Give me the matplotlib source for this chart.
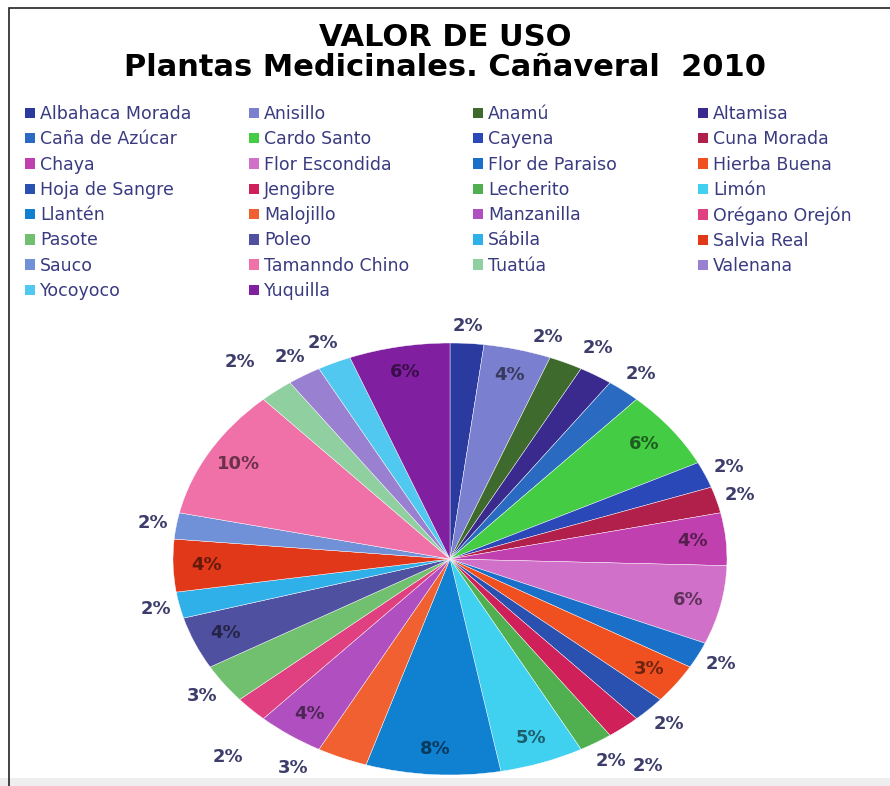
import numpy as np
import matplotlib.pyplot as plt
from matplotlib.colors import to_rgb
from matplotlib.patches import Patch, Rectangle

plantas = ['Albahaca Morada', 'Anisillo', 'Anamú', 'Altamisa',
           'Caña de Azúcar', 'Cardo Santo', 'Cayena', 'Cuna Morada',
           'Chaya', 'Flor Escondida', 'Flor de Paraiso', 'Hierba Buena',
           'Hoja de Sangre', 'Jengibre', 'Lecherito', 'Limón',
           'Llantén', 'Malojillo', 'Manzanilla', 'Orégano Orejón',
           'Pasote', 'Poleo', 'Sábila', 'Salvia Real',
           'Sauco', 'Tamanndo Chino', 'Tuatúa', 'Valenana',
           'Yocoyoco', 'Yuquilla']
valores = [2, 4, 2, 2, 2, 6, 2, 2, 4, 6, 2, 3, 2, 2, 2, 5,
           8, 3, 4, 2, 3, 4, 2, 4, 2, 10, 2, 2, 2, 6]
colores = ['#2b3a9e', '#7b7fcf', '#3e6a2e', '#3a2a8e', '#2a6ac0', '#44cc44',
           '#2a48b8', '#b0204a', '#c040b0', '#d070c8', '#1a70c8', '#f05020',
           '#2a50b0', '#d0205a', '#50b050', '#40d0f0', '#1080d0', '#f06030',
           '#b050c0', '#e04080', '#70c070', '#5050a0', '#30b0e8', '#e03818',
           '#7090d8', '#f070a8', '#90d0a0', '#9a80d0', '#50c8f0', '#8020a0']

# etiquetas que van dentro del sector
dentro = {'Anisillo', 'Cardo Santo', 'Chaya', 'Flor Escondida', 'Hierba Buena',
          'Limón', 'Llantén', 'Manzanilla', 'Poleo', 'Salvia Real',
          'Tamanndo Chino', 'Yuquilla'}
# pequeños desplazamientos (px) de etiquetas externas, como en Excel
ajuste = {'Anamú': (-29, -6), 'Altamisa': (-13, -9), 'Jengibre': (7, 22),
          'Malojillo': (-38, -9), 'Orégano Orejón': (-3, 33),
          'Tuatúa': (-19, -12)}

W, H = 890, 786
fig = plt.figure(figsize=(W / 100, H / 100), dpi=100)

fig.text(0.5, 1 - 46 / H, 'VALOR DE USO', ha='center', va='baseline',
         fontsize=22, fontweight='bold', family='DejaVu Sans')
fig.text(0.5, 1 - 76 / H, 'Plantas Medicinales. Cañaveral  2010', ha='center',
         va='baseline', fontsize=22, fontweight='bold', family='DejaVu Sans')

# leyenda: 4 columnas, relleno por filas
col_x = [25, 249, 473, 698]
for j in range(4):
    idx = list(range(j, len(plantas), 4))
    handles = [Patch(facecolor=colores[i], edgecolor='none') for i in idx]
    fig.legend(handles, [plantas[i] for i in idx], loc='upper left',
               bbox_to_anchor=(col_x[j] / W, 1 - 105 / H), frameon=False,
               handlelength=0.55, handleheight=0.55, handletextpad=0.3,
               labelspacing=0.42, borderpad=0, borderaxespad=0,
               prop={'family': 'DejaVu Sans', 'size': 12.5},
               labelcolor='#3a3a80')

cx, cy, rx, ry = 450, 559, 277, 216
ax = fig.add_axes([(cx - rx) / W, (H - cy - ry) / H, 2 * rx / W, 2 * ry / H])
wedges, _ = ax.pie(valores, colors=colores, startangle=90, counterclock=False,
                   wedgeprops={'edgecolor': 'white', 'linewidth': 0.3})
ax.set_aspect('auto')
ax.set_xlim(-1, 1)
ax.set_ylim(-1, 1)

total = sum(valores)
hw, hh, gap = 15, 8, 8
for w, nombre, v, c in zip(wedges, plantas, valores, colores):
    ang = np.deg2rad((w.theta1 + w.theta2) / 2)
    txt = '%.0f%%' % (100 * v / total)
    if nombre in dentro:
        r = 0.88
        x, y = r * np.cos(ang), r * np.sin(ang)
        col = np.array(to_rgb(c)) * 0.45
    else:
        # borde de la elipse en px y desplazamiento radial hacia afuera
        ex, ey = rx * np.cos(ang), ry * np.sin(ang)
        n = np.hypot(ex, ey)
        dx, dy = ex / n, ey / n
        off = gap + hw * abs(dx) + hh * abs(dy)
        px, py = ex + off * dx, ey + off * dy
        ax_, ay_ = ajuste.get(nombre, (0, 0))
        x, y = (px + ax_) / rx, (py - ay_) / ry
        col = '#3d3d6b'
    ax.text(x, y, txt, ha='center', va='center',
            fontsize=13, fontweight='bold', color=col, family='DejaVu Sans')

fig.add_artist(Rectangle((0, 0), 1, 8 / H, transform=fig.transFigure,
                         facecolor='#eeeeee', edgecolor='none'))
fig.add_artist(Rectangle((9 / W, -0.01), 1.0, 1.01 - 8 / H,
                         transform=fig.transFigure, fill=False,
                         edgecolor='#222222', lw=1.2))

fig.savefig('out.png', dpi=100)
